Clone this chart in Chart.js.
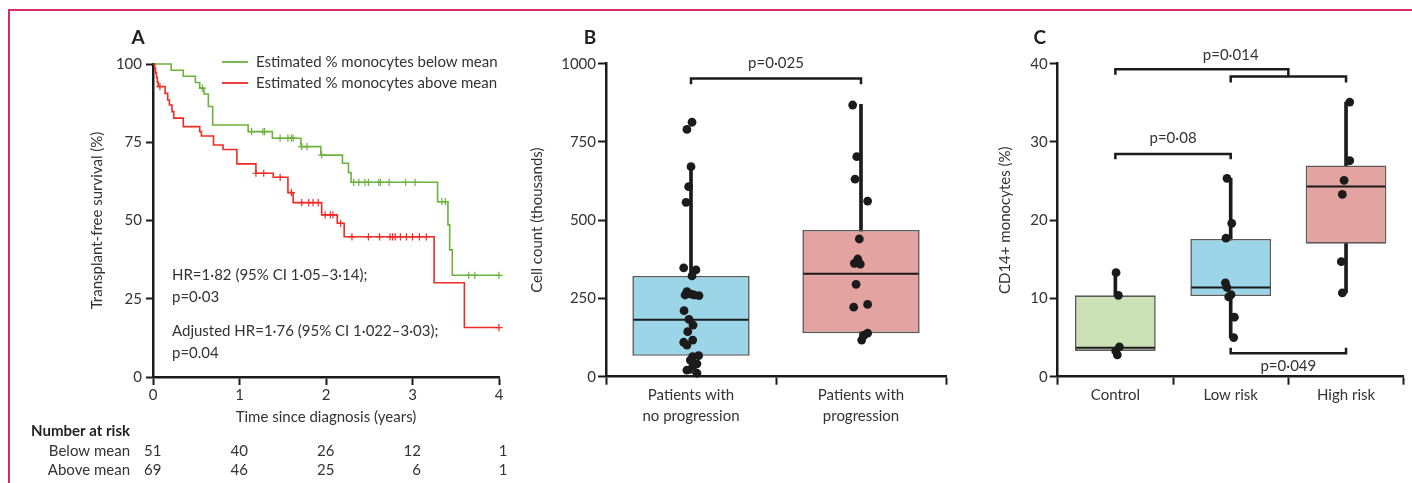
<!DOCTYPE html>
<html><head><meta charset="utf-8">
<script src="https://cdn.jsdelivr.net/npm/chart.js@4.4.1/dist/chart.umd.min.js"></script>
<style>
html,body{margin:0;padding:0;background:#fff;width:1412px;height:483px;overflow:hidden;}
#frame{position:absolute;left:8px;top:9px;width:1404px;height:474px;border-top:2px solid #d62d62;border-left:2px solid #d62d62;box-sizing:border-box;}
canvas{position:absolute;top:14px;}
#ca{left:10px}
#cb{left:520px}
#cc{left:962px}
</style></head><body>
<div id="frame"></div>
<canvas id="ca" width="510" height="469"></canvas>
<canvas id="cb" width="440" height="469"></canvas>
<canvas id="cc" width="450" height="469"></canvas>
<script>
// ---------- Panel A data (Kaplan-Meier) ----------
const kmTicks = [0, 1, 2, 3, 4];
const belowTimes = [0, 0.21, 0.35, 0.49, 0.54, 0.59, 0.64, 0.69, 1.10, 1.38, 1.71, 1.94, 2.19, 2.26, 2.29, 3.29, 3.41, 3.43, 3.46, 4.0];
const belowSurv  = [100, 98.0, 96.1, 94.1, 92.3, 90.4, 86.4, 80.5, 78.4, 76.3, 73.6, 70.9, 68.3, 65.3, 62.2, 56.0, 48.6, 40.6, 32.5, 32.5];
const belowCensor = [0.57, 1.14, 1.27, 1.29, 1.47, 1.56, 1.60, 1.62, 1.72, 1.78, 1.95, 2.32, 2.38, 2.45, 2.49, 2.61, 2.63, 2.73, 2.92, 3.03, 3.34, 3.38, 3.65, 3.72, 4.0];
const aboveTimes = [0, 0.02, 0.03, 0.04, 0.05, 0.06, 0.14, 0.17, 0.19, 0.22, 0.24, 0.35, 0.54, 0.56, 0.70, 0.81, 0.97, 1.19, 1.39, 1.56, 1.62, 1.95, 2.13, 2.21, 3.25, 3.60, 4.0];
const aboveSurv  = [100, 98.6, 97.1, 95.7, 94.2, 92.8, 90.6, 88.5, 86.9, 84.8, 82.7, 80.0, 78.4, 77.0, 74.1, 72.7, 68.1, 65.1, 63.8, 58.9, 55.7, 51.8, 49.1, 44.8, 30.1, 15.8, 15.8];
const aboveCensor = [0.08, 1.19, 1.28, 1.47, 1.60, 1.72, 1.80, 1.85, 1.91, 1.99, 2.05, 2.08, 2.17, 2.30, 2.49, 2.62, 2.74, 2.77, 2.80, 2.86, 2.93, 3.00, 3.08, 3.16, 4.0];
const seriesLabels = ['Estimated % monocytes below mean', 'Estimated % monocytes above mean'];
const riskTimes = [0, 1, 2, 3, 4];
const riskBelow = [51, 40, 26, 12, 1];
const riskAbove = [69, 46, 25, 6, 1];
const riskRowLabels = ['Below mean', 'Above mean'];
const hrLines = ['HR=1·82 (95% CI 1·05–3·14);', 'p=0·03', 'Adjusted HR=1·76 (95% CI 1·022–3·03);', 'p=0.04'];

// ---------- Panel B data ----------
const bCategories = [['Patients with', 'no progression'], ['Patients with', 'progression']];
const bQ1 = [67, 139];
const bMedian = [182, 329];
const bQ3 = [322, 469];
const bWhiskerLow = [11, 117];
const bWhiskerHigh = [671, 870];
const bNoProgression = [813, 790, 671, 607, 557, 348, 341, 322, 272, 264, 261, 261, 259, 211, 183, 165, 144, 110, 101, 117, 64, 67, 53, 41, 32, 21, 11];
const bNoProgressionJitter = [0.006, -0.024, 0, -0.014, -0.029, -0.043, 0.029, 0.006, -0.024, 0, -0.035, 0.018, 0.047, -0.041, -0.012, 0.012, -0.019, -0.043, -0.024, 0.01, 0.01, 0.045, -0.004, 0.035, 0.01, -0.024, 0.035];
const bProgression = [868, 703, 631, 561, 440, 376, 362, 360, 295, 231, 222, 139, 133, 117];
const bProgressionJitter = [-0.049, -0.025, -0.035, 0.039, -0.01, -0.019, -0.039, -0.004, -0.029, 0.039, -0.043, 0.039, 0.019, 0.004];
const bTicks = [0, 250, 500, 750, 1000];

// ---------- Panel C data ----------
const cCategories = ['Control', 'Low risk', 'High risk'];
const cQ1 = [3.3, 10.3, 17.0];
const cMedian = [3.7, 11.4, 24.3];
const cQ3 = [10.4, 17.6, 27.0];
const cWhiskerLow = [2.8, 5.0, 10.7];
const cWhiskerHigh = [13.3, 25.35, 35.1];
const cControl = [13.3, 10.4, 3.8, 3.3, 2.8];
const cControlJitter = [0.006, 0.026, 0.035, 0.003, 0.017];
const cLowRisk = [25.35, 19.6, 17.7, 12.0, 11.4, 10.5, 10.2, 7.6, 5.0];
const cLowRiskJitter = [-0.032, 0.009, -0.041, -0.046, -0.032, 0.003, -0.017, 0.032, 0.026];
const cHighRisk = [35.1, 27.6, 25.1, 23.3, 14.7, 10.7];
const cHighRiskJitter = [0.032, 0.032, -0.017, -0.032, -0.041, -0.032];
const cTicks = [0, 10, 20, 30, 40];

// ---------- styles ----------
const FONT = 'Lato';
const INK = '#1b1b1b';
const TXT = '#333333';
const GREEN = '#6cb23f';
const RED = '#ee2c25';
Chart.defaults.font.family = FONT;
Chart.defaults.font.size = 15;
Chart.defaults.color = TXT;
Chart.defaults.animation = false;

const axisBorder = {display: true, color: INK, width: 2.5};

function yScale(o) {
  return {
    type: 'linear', min: o.min, max: o.max,
    afterBuildTicks: s => { s.ticks = o.ticks.map(v => ({value: v})); },
    ticks: {padding: o.pad, color: TXT, font: {size: 15}, callback: v => String(v)},
    grid: {drawOnChartArea: false, drawTicks: true, tickLength: o.tickLen, tickWidth: 2, tickColor: INK},
    border: axisBorder,
    title: {display: true, text: o.title, color: TXT, font: {size: 15}, padding: {top: o.titlePad, bottom: 0}},
    afterFit: s => { s.width = o.width; }
  };
}

function survAt(times, surv, t) {
  let s = surv[0];
  for (let i = 0; i < times.length; i++) if (times[i] <= t) s = surv[i];
  return s;
}

// ---------- Panel A ----------
const panelA = {
  id: 'panelA',
  afterDraw(chart) {
    const {ctx, chartArea: ca, scales: {x}} = chart;
    ctx.save();
    ctx.fillStyle = '#222';
    ctx.font = 'bold 19px ' + FONT;
    ctx.textAlign = 'center'; ctx.textBaseline = 'middle';
    ctx.fillText('A', ca.left - 15, ca.top - 26);
    // legend
    const cols = [GREEN, RED];
    ctx.font = '15px ' + FONT;
    ctx.textAlign = 'left';
    [ -2, 19 ].forEach((dy, i) => {
      ctx.strokeStyle = cols[i]; ctx.lineWidth = 1.8;
      ctx.beginPath(); ctx.moveTo(ca.left + 69, ca.top + dy); ctx.lineTo(ca.left + 95, ca.top + dy); ctx.stroke();
      ctx.fillStyle = TXT;
      ctx.fillText(seriesLabels[i], ca.left + 103, ca.top + dy);
    });
    // HR annotations
    [211, 233, 267, 289].forEach((dy, i) => ctx.fillText(hrLines[i], ca.left + 19, ca.top + dy));
    // number at risk
    ctx.textAlign = 'right';
    ctx.font = 'bold 15px ' + FONT;
    ctx.fillStyle = '#222';
    ctx.fillText('Number at risk', ca.left - 23, ca.bottom + 54);
    ctx.font = '15px ' + FONT;
    ctx.fillStyle = TXT;
    [riskBelow, riskAbove].forEach((row, r) => {
      const yy = ca.bottom + 74 + r * 19;
      ctx.fillText(riskRowLabels[r], ca.left - 23, yy);
      row.forEach((n, i) => ctx.fillText(String(n), x.getPixelForValue(riskTimes[i]) + 8.5, yy));
    });
    ctx.restore();
  }
};

new Chart(document.getElementById('ca'), {
  type: 'line',
  data: {datasets: [
    {type: 'scatter', data: aboveCensor.map(t => ({x: t, y: survAt(aboveTimes, aboveSurv, t)})), pointStyle: 'cross', pointRadius: 3.6, borderColor: RED, borderWidth: 1.2, clip: false},
    {type: 'scatter', data: belowCensor.map(t => ({x: t, y: survAt(belowTimes, belowSurv, t)})), pointStyle: 'cross', pointRadius: 3.6, borderColor: GREEN, borderWidth: 1.2, clip: false},
    {label: seriesLabels[1], data: aboveTimes.map((t, i) => ({x: t, y: aboveSurv[i]})), borderColor: RED, borderWidth: 1.6, stepped: 'before', pointRadius: 0, fill: false, clip: false},
    {label: seriesLabels[0], data: belowTimes.map((t, i) => ({x: t, y: belowSurv[i]})), borderColor: GREEN, borderWidth: 1.6, stepped: 'before', pointRadius: 0, fill: false, clip: false}
  ]},
  options: {
    responsive: false, animation: false,
    layout: {padding: {left: 0, top: 50, right: 21, bottom: 56}},
    scales: {
      x: {type: 'linear', min: 0, max: 4,
        afterBuildTicks: s => { s.ticks = kmTicks.map(v => ({value: v})); },
        ticks: {padding: 1, color: TXT, maxRotation: 0},
        grid: {drawOnChartArea: false, drawTicks: true, tickLength: 8, tickWidth: 2, tickColor: INK},
        border: axisBorder,
        title: {display: true, text: 'Time since diagnosis (years)', color: TXT, padding: {top: 0, bottom: 1}},
        afterFit: s => { s.height = 50; }
      },
      y: yScale({min: 0, max: 100, ticks: [0, 25, 50, 75, 100], pad: 4, tickLen: 7, title: 'Transplant-free survival (%)', titlePad: 78, width: 143})
    },
    plugins: {legend: {display: false}, tooltip: {enabled: false}}
  },
  plugins: [panelA]
});

// ---------- Box panels ----------
const boxMedian = {
  id: 'boxMedian',
  afterDatasetDraw(chart, args) {
    const ds = chart.data.datasets[args.index];
    if (!ds.medians) return;
    const y = chart.scales.y, ctx = chart.ctx;
    ctx.save(); ctx.strokeStyle = INK; ctx.lineWidth = 2;
    args.meta.data.forEach((bar, i) => {
      const py = y.getPixelForValue(ds.medians[i]);
      ctx.beginPath(); ctx.moveTo(bar.x - bar.width / 2 + 1, py); ctx.lineTo(bar.x + bar.width / 2 - 1, py); ctx.stroke();
    });
    ctx.restore();
  }
};
const brackets = {
  id: 'brackets',
  afterDraw(chart, args, opts) {
    const {ctx, chartArea: ca, scales: {x, y}} = chart;
    ctx.save();
    ctx.fillStyle = '#222';
    ctx.font = 'bold 19px ' + FONT;
    ctx.textAlign = 'center'; ctx.textBaseline = 'middle';
    ctx.fillText(opts.letter, ca.left + opts.letterDx, ca.top - 26);
    ctx.strokeStyle = INK; ctx.lineWidth = 2.5; ctx.lineCap = 'butt';
    ctx.font = '15px ' + FONT; ctx.fillStyle = TXT;
    opts.items.forEach(b => {
      const x1 = x.getPixelForValue(b.x1), x2 = x.getPixelForValue(b.x2), py = y.getPixelForValue(b.y);
      ctx.beginPath();
      ctx.moveTo(x1, y.getPixelForValue(b.leg1)); ctx.lineTo(x1, py); ctx.lineTo(x2, py); ctx.lineTo(x2, y.getPixelForValue(b.leg2));
      ctx.stroke();
      if (b.label) ctx.fillText(b.label, x.getPixelForValue(b.lx), y.getPixelForValue(b.ly));
    });
    ctx.restore();
  }
};

function boxPanel(id, o) {
  const pts = [];
  o.values.forEach((vals, i) => vals.forEach((v, j) => pts.push({x: i + o.jitter[i][j], y: v})));
  const idx = o.cats.map((c, i) => i);
  new Chart(document.getElementById(id), {
    type: 'bar',
    data: {datasets: [
      {type: 'scatter', data: pts, backgroundColor: INK, borderWidth: 0, pointRadius: 4.4, clip: false},
      {type: 'bar', data: idx.map(i => ({x: i, y: [o.q1[i], o.q3[i]]})), medians: o.med, backgroundColor: o.fills, borderColor: '#5a5a5a', borderWidth: 1.6, borderSkipped: false, grouped: false, categoryPercentage: 1, barPercentage: o.barPct},
      {type: 'bar', data: idx.map(i => ({x: i, y: [o.lo[i], o.hi[i]]})), backgroundColor: INK, barThickness: 3, grouped: false}
    ]},
    options: {
      responsive: false, animation: false,
      layout: {padding: {left: 0, top: 49.7, right: o.padRight, bottom: o.padBottom}},
      scales: {
        x: {type: 'linear', min: -0.5, max: o.cats.length - 0.5, offset: false,
          afterBuildTicks: s => { s.ticks = idx.map(v => ({value: v})); },
          ticks: {autoSkip: false, maxRotation: 0, padding: 0, color: TXT, font: {size: 15, lineHeight: 1.4}, callback: v => o.cats[v]},
          grid: {offset: true, drawOnChartArea: false, drawTicks: true, tickLength: 8, tickWidth: 2, tickColor: INK},
          border: axisBorder,
          afterFit: s => { s.height = 60; }
        },
        y: yScale({min: o.yMin, max: o.yMax, ticks: o.yTicks, pad: 2, tickLen: 8, title: o.yTitle, titlePad: o.titlePad, width: o.yWidth})
      },
      plugins: {legend: {display: false}, tooltip: {enabled: false}, brackets: {letter: o.letter, letterDx: o.letterDx, items: o.brackets}}
    },
    plugins: [boxMedian, brackets]
  });
}

boxPanel('cb', {
  cats: bCategories, q1: bQ1, med: bMedian, q3: bQ3, lo: bWhiskerLow, hi: bWhiskerHigh,
  values: [bNoProgression, bProgression], jitter: [bNoProgressionJitter, bProgressionJitter],
  fills: ['#9dd5e8', '#e2a3a1'], barPct: 0.69,
  yMin: 0, yMax: 1000, yTicks: bTicks, yTitle: 'Cell count (thousands)', titlePad: 8, yWidth: 86,
  padRight: 14, padBottom: 46.3, letter: 'B', letterDx: -16,
  brackets: [{x1: 0, x2: 1, y: 953, leg1: 934, leg2: 934, label: 'p=0·025', lx: 0.5, ly: 1002}]
});

boxPanel('cc', {
  cats: cCategories, q1: cQ1, med: cMedian, q3: cQ3, lo: cWhiskerLow, hi: cWhiskerHigh,
  values: [cControl, cLowRisk, cHighRisk], jitter: [cControlJitter, cLowRiskJitter, cHighRiskJitter],
  fills: ['#cce2b6', '#9dd5e8', '#e2a3a1'], barPct: 0.70,
  yMin: 0, yMax: 40, yTicks: cTicks, yTitle: 'CD14+ monocytes (%)', titlePad: 34, yWidth: 95.7,
  padRight: 8.3, padBottom: 46.3, letter: 'C', letterDx: -18,
  brackets: [
    {x1: 0, x2: 1.5, y: 39.3, leg1: 38.6, leg2: 38.35, label: 'p=0·014', lx: 1, ly: 41.1},
    {x1: 1, x2: 2, y: 38.35, leg1: 37.6, leg2: 37.6},
    {x1: 0, x2: 1, y: 28.46, leg1: 27.8, leg2: 27.8, label: 'p=0·08', lx: 0.5, ly: 30.5},
    {x1: 1, x2: 2, y: 3.0, leg1: 3.7, leg2: 3.7, label: 'p=0·049', lx: 1.5, ly: 1.3}
  ]
});
</script>
</body></html>
